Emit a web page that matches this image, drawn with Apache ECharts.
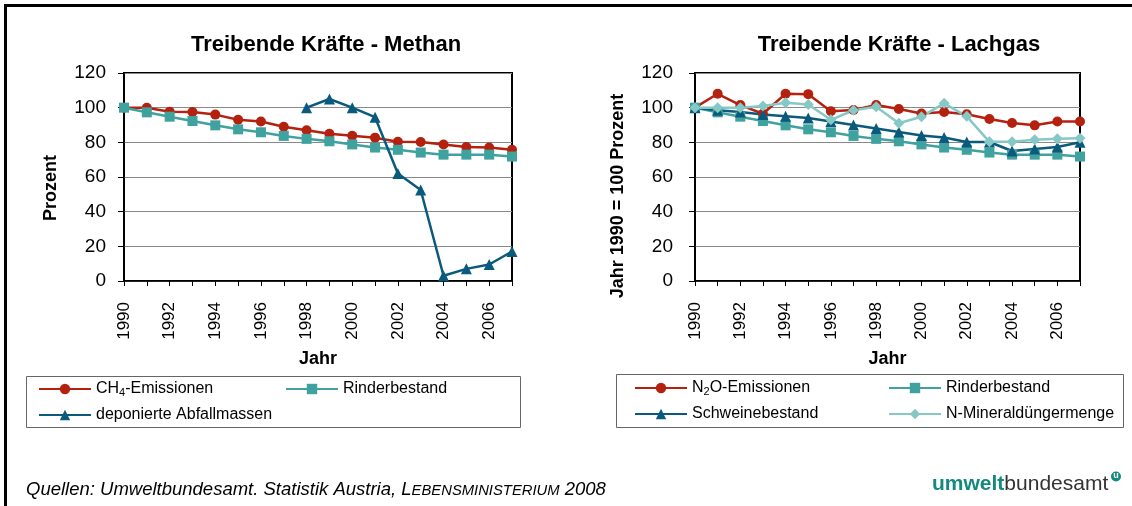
<!DOCTYPE html>
<html>
<head>
<meta charset="utf-8">
<script src="https://cdn.jsdelivr.net/npm/echarts@6.0.0/dist/echarts.min.js"></script>
<style>
  html, body { margin: 0; padding: 0; background: #fff; }
  #main { width: 1132px; height: 506px; }
</style>
</head>
<body>
<div id="main"></div>
<script>
// --- Daten (Index 1990 = 100) ---
const years = ['1990','1991','1992','1993','1994','1995','1996','1997','1998','1999',
               '2000','2001','2002','2003','2004','2005','2006','2007'];

// Methan
const ch4Emissionen = [100, 100, 97.7, 97.5, 96, 93, 92, 89, 87, 85, 83.8, 82.7, 80.3, 80.2, 78.7, 77.3, 77, 75.7];
const rinderbestand = [100, 97.3, 94.8, 92.3, 89.8, 87.5, 85.8, 83.7, 82, 80.6, 78.8, 77, 75.7, 74.1, 72.9, 72.9, 72.9, 71.8];
const abfallmassen = [null, null, null, null, null, null, null, null, 100, 105, 100, 94.5, 62, 52.5, 3, 7, 9.5, 17];

// Lachgas
const n2oEmissionen = [100, 108, 101.5, 96.5, 108, 107.8, 98, 98.7, 101.5, 99.2, 96.6, 97.5, 96.2, 93.5, 91.2, 89.8, 92, 92];
const schweinebestand = [100, 98.5, 97.5, 96, 95, 94, 92, 90, 88, 86, 84, 82.8, 80.2, 80.2, 75, 76.2, 77.3, 80];
const mineralduenger = [100, 100, 100, 101, 102.8, 101.8, 93, 98.5, 100.5, 91, 94.8, 102.5, 95, 80.3, 80.3, 81.5, 82, 82.4];

const yTicks = { min: 0, max: 120, interval: 20 };

const FONT = '"Liberation Sans", Arial, sans-serif';
const RED = '#B5210F';
const TEAL = '#40A29F';
const BLUE = '#0A5A7E';
const LIGHT = '#86C8C6';

const chart = echarts.init(document.getElementById('main'));

function xAxisCfg(gridIndex) {
  return {
    gridIndex,
    type: 'category',
    data: years,
    boundaryGap: false,
    name: 'Jahr',
    nameLocation: 'middle',
    nameGap: 69,
    nameTextStyle: { fontFamily: FONT, fontSize: 18, fontWeight: 'bold', color: '#000' },
    axisLine: { lineStyle: { color: '#000', width: 1.5 } },
    axisTick: { show: true, interval: 0, length: 5, lineStyle: { color: '#000' } },
    axisLabel: { interval: 1, rotate: 90, margin: 21, fontFamily: FONT, fontSize: 17, color: '#000' },
    splitLine: { show: false }
  };
}

function yAxisCfg(gridIndex, margin) {
  return {
    gridIndex,
    type: 'value',
    min: yTicks.min,
    max: yTicks.max,
    interval: yTicks.interval,
    axisLine: { show: true, lineStyle: { color: '#000', width: 1.5 } },
    axisTick: { show: true, length: 6, lineStyle: { color: '#000' } },
    axisLabel: { margin, fontFamily: FONT, fontSize: 19, color: '#000' },
    splitLine: { lineStyle: { color: '#8a8a8a', width: 1 } }
  };
}

function lineSeries(name, data, color, symbol, size, idx) {
  return {
    name, type: 'line', data,
    xAxisIndex: idx, yAxisIndex: idx,
    symbol, symbolSize: size,
    showAllSymbol: true,
    lineStyle: { color, width: 2.5 },
    itemStyle: { color },
    emphasis: { disabled: true },
    animation: false
  };
}

const legendBase = {
  orient: 'vertical',
  padding: 0,
  itemGap: 8,
  itemWidth: 52,
  itemHeight: 13,
  selectedMode: false,
  textStyle: {
    fontFamily: FONT, fontSize: 16, color: '#000', lineHeight: 18,
    rich: { sub: { fontFamily: FONT, fontSize: 11, color: '#000', verticalAlign: 'bottom', padding: [7, 0, 0, 0] } }
  },
  formatter: function (name) {
    if (name === 'CH4-Emissionen') return 'CH{sub|4}-Emissionen';
    if (name === 'N2O-Emissionen') return 'N{sub|2}O-Emissionen';
    return name;
  }
};

const titleStyle = { fontFamily: FONT, fontSize: 22, fontWeight: 'bold', color: '#000' };

chart.setOption({
  backgroundColor: '#fff',
  title: [
    { text: 'Treibende Kräfte - Methan', left: 321, top: 29, textAlign: 'center', textStyle: titleStyle },
    { text: 'Treibende Kräfte - Lachgas', left: 894, top: 29, textAlign: 'center', textStyle: titleStyle }
  ],
  grid: [
    { left: 124, top: 73, width: 388, height: 208, show: true, borderColor: '#000', borderWidth: 2, backgroundColor: 'transparent' },
    { left: 695, top: 73, width: 385, height: 208, show: true, borderColor: '#000', borderWidth: 2, backgroundColor: 'transparent' }
  ],
  xAxis: [xAxisCfg(0), xAxisCfg(1)],
  yAxis: [yAxisCfg(0, 18), yAxisCfg(1, 22)],
  legend: [
    Object.assign({}, legendBase, { left: 38, top: 380, data: ['CH4-Emissionen', 'deponierte Abfallmassen'] }),
    Object.assign({}, legendBase, { left: 285, top: 380, data: ['Rinderbestand'] }),
    Object.assign({}, legendBase, { left: 634, top: 379, data: ['N2O-Emissionen', 'Schweinebestand'] }),
    Object.assign({}, legendBase, { left: 888, top: 379, data: ['Rinderbestand', 'N-Mineraldüngermenge'] })
  ],
  series: [
    lineSeries('CH4-Emissionen', ch4Emissionen, RED, 'circle', 10, 0),
    lineSeries('Rinderbestand', rinderbestand, TEAL, 'rect', 10, 0),
    lineSeries('deponierte Abfallmassen', abfallmassen, BLUE, 'triangle', 11, 0),
    lineSeries('N2O-Emissionen', n2oEmissionen, RED, 'circle', 10, 1),
    lineSeries('Rinderbestand', rinderbestand, TEAL, 'rect', 10, 1),
    lineSeries('Schweinebestand', schweinebestand, BLUE, 'triangle', 11, 1),
    lineSeries('N-Mineraldüngermenge', mineralduenger, LIGHT, 'diamond', 11, 1)
  ],
  graphic: [
    // Rahmen oben / links
    { type: 'polyline', shape: { points: [[5.5, 506], [5.5, 5.5], [1132, 5.5]] },
      style: { stroke: '#000', lineWidth: 3, fill: null } },
    // Legendenrahmen
    { type: 'rect', shape: { x: 26.5, y: 376.5, width: 494, height: 51 },
      style: { stroke: '#666', lineWidth: 1, fill: null }, z: -1 },
    { type: 'rect', shape: { x: 616.5, y: 374.5, width: 507, height: 53 },
      style: { stroke: '#666', lineWidth: 1, fill: null }, z: -1 },
    // Achsentitel Y
    { type: 'text', x: 51, y: 188, rotation: Math.PI / 2,
      style: { text: 'Prozent', font: 'bold 18px ' + FONT, fill: '#000', textAlign: 'center', textVerticalAlign: 'middle' } },
    { type: 'text', x: 618, y: 196, rotation: Math.PI / 2,
      style: { text: 'Jahr 1990 = 100 Prozent', font: 'bold 18px ' + FONT, fill: '#000', textAlign: 'center', textVerticalAlign: 'middle' } },
    // Quelle
    { type: 'text', x: 26, y: 490,
      style: {
        text: '{n|Quellen: Umweltbundesamt. Statistik Austria, L}{s|EBENSMINISTERIUM}{n| 2008}',
        textVerticalAlign: 'middle',
        rich: {
          n: { font: 'italic 18.5px ' + FONT, fill: '#000', verticalAlign: 'bottom' },
          s: { font: 'italic 14.8px ' + FONT, fill: '#000', verticalAlign: 'bottom', padding: [0, 0, 1, 0] }
        }
      } },
    // Logo
    { type: 'text', x: 932, y: 484,
      style: {
        text: '{a|umwelt}{b|bundesamt}',
        textVerticalAlign: 'middle',
        rich: {
          a: { font: 'bold 21px ' + FONT, fill: '#138A7E' },
          b: { font: '21px ' + FONT, fill: '#333' }
        }
      } },
    { type: 'circle', shape: { cx: 1116, cy: 476.5, r: 5 }, style: { fill: '#138A7E' } },
    { type: 'text', x: 1116, y: 476, z: 10,
      style: { text: 'u', font: 'bold 9px ' + FONT, fill: '#fff', textAlign: 'center', textVerticalAlign: 'middle' } }
  ]
});
</script>
</body>
</html>
